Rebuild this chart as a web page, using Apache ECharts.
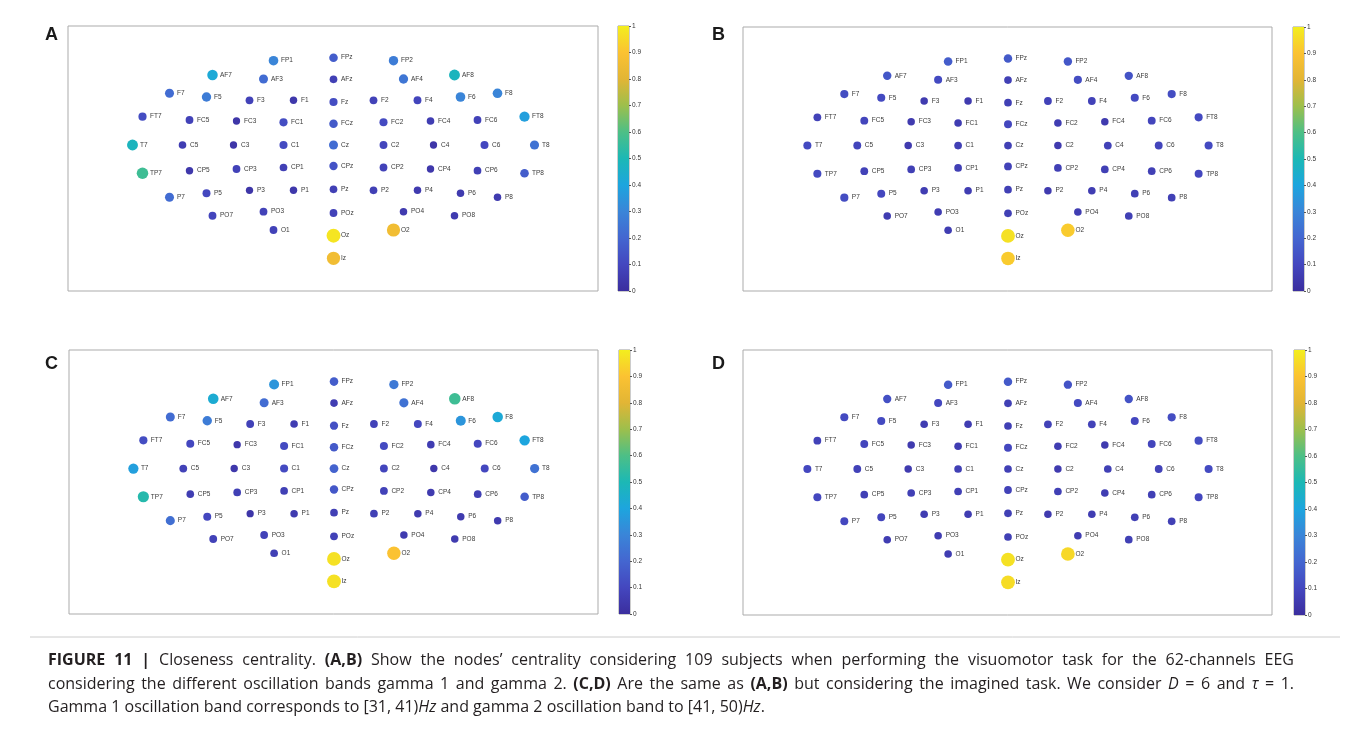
<!DOCTYPE html>
<html>
<head>
<meta charset="utf-8">
<script src="https://cdn.jsdelivr.net/npm/echarts@6/dist/echarts.min.js"></script>
<style>
  html, body { margin: 0; padding: 0; background: #ffffff; }
  #chart { width: 1360px; height: 737px; }
</style>
</head>
<body>
<div id="chart"></div>
<script>
// 62-channel EEG montage: channel names and 2-D scalp projection (arbitrary units, Cz at origin)
const channels = ['FP1','FPz','FP2',
  'AF7','AF3','AFz','AF4','AF8',
  'F7','F5','F3','F1','Fz','F2','F4','F6','F8',
  'FT7','FC5','FC3','FC1','FCz','FC2','FC4','FC6','FT8',
  'T7','C5','C3','C1','Cz','C2','C4','C6','T8',
  'TP7','CP5','CP3','CP1','CPz','CP2','CP4','CP6','TP8',
  'P7','P5','P3','P1','Pz','P2','P4','P6','P8',
  'PO7','PO3','POz','PO4','PO8',
  'O1','Oz','O2','Iz'];

const posX = [-60, 0, 60,
  -121, -70, 0, 70, 121,
  -164, -127, -84, -40, 0, 40, 84, 127, 164,
  -191, -144, -97, -50, 0, 50, 97, 144, 191,
  -201, -151, -100, -50, 0, 50, 100, 151, 201,
  -191, -144, -97, -50, 0, 50, 97, 144, 191,
  -164, -127, -84, -40, 0, 40, 84, 127, 164,
  -121, -70, 0, 70, 121,
  -60, 0, 60, 0];

const posY = [84.3, 87.3, 84.3,
  70, 66, 65.7, 66, 70,
  51.7, 48, 44.7, 44.7, 43, 44.7, 44.7, 48, 51.7,
  28.3, 25, 24, 22.7, 21.3, 22.7, 24, 25, 28.3,
  0, 0, 0, 0, 0, 0, 0, 0, 0,
  -28.3, -25.7, -24, -22.5, -21, -22.5, -24, -25.7, -28.3,
  -52.3, -48.3, -45.3, -45.3, -44.3, -45.3, -45.3, -48.3, -52.3,
  -70.7, -66.7, -68, -66.7, -70.7,
  -85, -90.7, -85, -113.3];

// Closeness centrality per channel
// A: visuomotor, gamma 1 | B: visuomotor, gamma 2 | C: imagined, gamma 1 | D: imagined, gamma 2
const centralityA = [0.30, 0.17, 0.27,
  0.42, 0.22, 0.07, 0.25, 0.48,
  0.22, 0.27, 0.08, 0.04, 0.12, 0.08, 0.09, 0.30, 0.30,
  0.12, 0.08, 0.03, 0.12, 0.16, 0.11, 0.06, 0.08, 0.38,
  0.48, 0.06, 0.03, 0.11, 0.22, 0.09, 0.03, 0.10, 0.24,
  0.57, 0.04, 0.08, 0.07, 0.14, 0.08, 0.04, 0.07, 0.17,
  0.22, 0.10, 0.03, 0.04, 0.07, 0.07, 0.05, 0.05, 0.05,
  0.09, 0.08, 0.08, 0.05, 0.05,
  0.08, 0.98, 0.86, 0.86];

const centralityB = [0.17, 0.16, 0.15,
  0.15, 0.11, 0.07, 0.12, 0.14,
  0.12, 0.11, 0.05, 0.05, 0.07, 0.08, 0.08, 0.11, 0.12,
  0.08, 0.09, 0.05, 0.06, 0.10, 0.06, 0.05, 0.09, 0.11,
  0.11, 0.09, 0.05, 0.07, 0.07, 0.05, 0.08, 0.09, 0.11,
  0.11, 0.08, 0.07, 0.07, 0.08, 0.07, 0.07, 0.07, 0.10,
  0.12, 0.10, 0.06, 0.06, 0.07, 0.05, 0.06, 0.07, 0.07,
  0.06, 0.06, 0.07, 0.06, 0.07,
  0.06, 0.97, 0.92, 0.92];

const centralityC = [0.35, 0.17, 0.26,
  0.43, 0.22, 0.06, 0.24, 0.57,
  0.22, 0.27, 0.08, 0.06, 0.13, 0.08, 0.10, 0.35, 0.42,
  0.12, 0.10, 0.04, 0.11, 0.16, 0.11, 0.06, 0.10, 0.40,
  0.38, 0.08, 0.04, 0.11, 0.19, 0.09, 0.04, 0.10, 0.24,
  0.52, 0.06, 0.07, 0.07, 0.15, 0.08, 0.05, 0.07, 0.17,
  0.23, 0.10, 0.03, 0.05, 0.07, 0.07, 0.05, 0.05, 0.05,
  0.08, 0.08, 0.08, 0.05, 0.05,
  0.07, 0.97, 0.90, 0.97];

const centralityD = [0.16, 0.16, 0.14,
  0.13, 0.10, 0.07, 0.11, 0.14,
  0.11, 0.11, 0.06, 0.06, 0.07, 0.08, 0.08, 0.10, 0.12,
  0.08, 0.09, 0.05, 0.06, 0.10, 0.06, 0.05, 0.09, 0.12,
  0.10, 0.08, 0.05, 0.07, 0.07, 0.05, 0.07, 0.08, 0.11,
  0.10, 0.07, 0.07, 0.07, 0.08, 0.07, 0.06, 0.07, 0.10,
  0.10, 0.09, 0.06, 0.06, 0.07, 0.05, 0.06, 0.07, 0.07,
  0.06, 0.06, 0.07, 0.06, 0.07,
  0.06, 0.97, 0.95, 0.96];

const panelLetters = ['A', 'B', 'C', 'D'];
const panelValues = [centralityA, centralityB, centralityC, centralityD];

// parula-like colour ramp, evenly spaced from 0 to 1
const parula = ['#3b2e9e', '#4447bf', '#4466d0', '#3a85d8', '#1da5de', '#1cb8b5',
                '#4dbf86', '#9dbf4c', '#e2b535', '#fbc232', '#f3ee1e'];

// panel frames (pixels) and colour-bar frames
const frames = [
  { left: 68,  top: 26,  width: 530, height: 265, cbLeft: 618,  letterX: 45,  letterY: 26 },
  { left: 743, top: 27,  width: 529, height: 264, cbLeft: 1293, letterX: 712, letterY: 26 },
  { left: 69,  top: 350, width: 529, height: 264, cbLeft: 619,  letterX: 45,  letterY: 355 },
  { left: 743, top: 350, width: 529, height: 265, cbLeft: 1294, letterX: 712, letterY: 355 }
];

const X_MIN = -265.5, X_MAX = 264.5, Y_MIN = -146, Y_MAX = 119;
const labelFont = 'Liberation Sans, Arial, Helvetica, sans-serif';

const chart = echarts.init(document.getElementById('chart'), null, { renderer: 'canvas' });

const grids = [], xAxes = [], yAxes = [], series = [], visualMaps = [], graphics = [];

const gradientStops = parula.map((c, i) => ({ offset: i / (parula.length - 1), color: c }));

frames.forEach((f, i) => {
  // scalp map
  grids.push({ left: f.left, top: f.top, width: f.width, height: f.height,
    show: true, borderColor: '#ababab', borderWidth: 1, backgroundColor: '#ffffff' });
  xAxes.push({ type: 'value', gridIndex: 2 * i, min: X_MIN, max: X_MAX, show: false });
  yAxes.push({ type: 'value', gridIndex: 2 * i, min: Y_MIN, max: Y_MAX, show: false });
  const vals = panelValues[i];
  series.push({
    type: 'scatter',
    xAxisIndex: 2 * i, yAxisIndex: 2 * i,
    data: channels.map((n, k) => [posX[k], posY[k], vals[k], n]),
    symbolSize: v => 7 * Math.sqrt(1 + 3 * v[2]),
    itemStyle: { opacity: 1 },
    label: {
      show: true, position: 'inside', align: 'left', verticalAlign: 'middle',
      offset: [7.5, 0], formatter: p => p.data[3],
      fontSize: 6.5, color: '#3a3a3a', fontFamily: labelFont
    },
    emphasis: { disabled: true },
    silent: true,
    z: 3
  });
  visualMaps.push({ type: 'continuous', show: false, seriesIndex: series.length - 1,
    dimension: 2, min: 0, max: 1, inRange: { color: parula } });

  // colour bar
  grids.push({ left: f.cbLeft, top: f.top, width: 11, height: f.height,
    show: true, borderColor: '#9a9a9a', borderWidth: 1 });
  xAxes.push({ type: 'category', gridIndex: 2 * i + 1, data: ['cb'], show: false });
  yAxes.push({ type: 'value', gridIndex: 2 * i + 1, min: 0, max: 1, interval: 0.1,
    position: 'right',
    axisLine: { show: false },
    axisTick: { show: true, length: 2, lineStyle: { color: '#555', width: 1 } },
    splitLine: { show: false },
    axisLabel: { fontSize: 6.5, color: '#333', margin: 3, fontFamily: labelFont,
      formatter: v => (v === 0 ? '0' : (Math.abs(v - 1) < 1e-9 ? '1' : v.toFixed(1))) } });
  series.push({
    type: 'bar', xAxisIndex: 2 * i + 1, yAxisIndex: 2 * i + 1,
    data: [1], barWidth: '100%', silent: true,
    itemStyle: { color: new echarts.graphic.LinearGradient(0, 1, 0, 0, gradientStops) }
  });

  // panel letter
  graphics.push({ type: 'text', left: f.letterX, top: f.letterY,
    style: { text: panelLetters[i], font: 'bold 18px Liberation Sans, Arial, sans-serif', fill: '#1a1a1a' } });
});

// caption separator
graphics.push({ type: 'line', shape: { x1: 30, y1: 637, x2: 1340, y2: 637 },
  style: { stroke: '#cccccc', lineWidth: 1 } });

// ---- caption: justified lines built word by word ----
const capFamily = '"Open Sans", "Noto Sans", sans-serif';
const capSize = 16;
const capColor = '#231f20';
const captionLines = [
  '{b|FIGURE 11 |}{n| Closeness centrality. }{b|(A,B)}{n| Show the nodes’ centrality considering 109 subjects when performing the visuomotor task for the 62-channels EEG}',
  '{n|considering the different oscillation bands gamma 1 and gamma 2. }{b|(C,D)}{n| Are the same as }{b|(A,B)}{n| but considering the imagined task. We consider }{i|D}{n| = 6 and }{i|τ}{n| = 1.}',
  '{n|Gamma 1 oscillation band corresponds to [31, 41)}{i|Hz}{n| and gamma 2 oscillation band to [41, 50)}{i|Hz}{n|.}'
];
const captionY = [660.5, 684, 707.5];
const captionJustify = [true, true, false];
const capLeft = 48, capRight = 1294;

const measureCtx = document.createElement('canvas').getContext('2d');
function fontFor(s) {
  return (s === 'i' ? 'italic ' : '') + (s === 'b' ? 'bold ' : '') + capSize + 'px ' + capFamily;
}
function textWidth(t, s) { measureCtx.font = fontFor(s); return measureCtx.measureText(t).width; }

captionLines.forEach((line, li) => {
  // split styled runs into words, each word a list of [text, style] pieces
  const words = [];
  let cur = [];
  const re = /\{(\w)\|([^}]*)\}/g;
  let m;
  while ((m = re.exec(line)) !== null) {
    const s = m[1];
    for (const ch of m[2]) {
      if (ch === ' ') {
        if (cur.length) { words.push(cur); cur = []; }
      } else {
        const last = cur[cur.length - 1];
        if (last && last[1] === s) last[0] += ch; else cur.push([ch, s]);
      }
    }
  }
  if (cur.length) words.push(cur);

  const widths = words.map(w => w.reduce((a, p) => a + textWidth(p[0], p[1]), 0));
  const total = widths.reduce((a, b) => a + b, 0);
  const gap = captionJustify[li]
    ? (capRight - capLeft - total) / (words.length - 1)
    : textWidth(' ', 'n');
  let x = capLeft;
  words.forEach((w, wi) => {
    let px = x;
    w.forEach(p => {
      graphics.push({ type: 'text', x: px, y: captionY[li],
        style: { text: p[0], font: fontFor(p[1]), fill: capColor, verticalAlign: 'middle', align: 'left' } });
      px += textWidth(p[0], p[1]);
    });
    x += widths[wi] + gap;
  });
});

chart.setOption({
  animation: false,
  backgroundColor: '#ffffff',
  grid: grids,
  xAxis: xAxes,
  yAxis: yAxes,
  visualMap: visualMaps,
  series: series,
  graphic: graphics
});
</script>
</body>
</html>
